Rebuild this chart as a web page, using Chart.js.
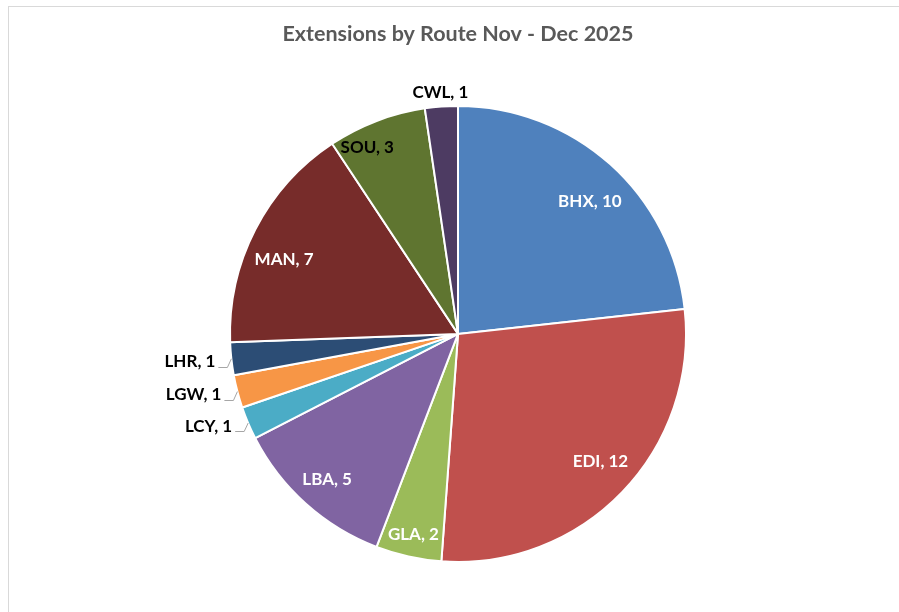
<!DOCTYPE html>
<html>
<head>
<meta charset="utf-8">
<script src="https://cdn.jsdelivr.net/npm/chart.js@4"></script>
<style>
  body { margin: 0; background: #fff; }
  canvas { display: block; }
</style>
</head>
<body>
<canvas id="chart" width="899" height="612"></canvas>
<script>
const routes = ['BHX', 'EDI', 'GLA', 'LBA', 'LCY', 'LGW', 'LHR', 'MAN', 'SOU', 'CWL'];
const extensions = [10, 12, 2, 5, 1, 1, 1, 7, 3, 1];
const sliceColours = ['#4F81BD', '#C0504D', '#9BBB59', '#8064A2', '#4BACC6',
                      '#F79646', '#2C4D75', '#772C2A', '#5F7530', '#4D3B62'];

// label placement: 'in' = inside slice, 'top' = just outside, 'left' = outside with leader
const labelMode = ['in', 'in', 'in', 'in', 'left', 'left', 'left', 'in', 'in', 'top'];
const labelRadius = [0.82, 0.84, 0.9, 0.86, 1, 1, 1, 0.83, 0.91, 1.06];
const labelTurn = [3, -2, 0, 0, 0, 0, 0, -4, -5, 0]; // degrees
const labelInk = ['#fff', '#fff', '#fff', '#fff', '#000', '#000', '#000', '#fff', '#000', '#000'];

const FONT = 'Lato, "Open Sans", sans-serif';

const frame = {
  id: 'frame',
  beforeDraw(c) {
    const ctx = c.ctx;
    ctx.save();
    ctx.fillStyle = '#fff';
    ctx.fillRect(0, 0, c.width, c.height);
    ctx.strokeStyle = '#d9d9d9';
    ctx.lineWidth = 1;
    ctx.strokeRect(8.5, 6.5, c.width + 10, c.height + 10);
    ctx.restore();
  }
};

const sliceLabels = {
  id: 'sliceLabels',
  afterDatasetsDraw(c) {
    const ctx = c.ctx;
    const arcs = c.getDatasetMeta(0).data;
    ctx.save();
    ctx.font = 'bold 17px ' + FONT;
    ctx.textBaseline = 'middle';
    arcs.forEach((arc, i) => {
      const p = arc.getProps(['x', 'y', 'startAngle', 'endAngle', 'outerRadius'], true);
      const mid = (p.startAngle + p.endAngle) / 2 + labelTurn[i] * Math.PI / 180;
      const text = routes[i] + ', ' + extensions[i];
      ctx.fillStyle = labelInk[i];
      if (labelMode[i] === 'left') {
        const ex = p.x + Math.cos(mid) * p.outerRadius;
        const ey = p.y + Math.sin(mid) * p.outerRadius;
        const tx = ex - 16, ty = ey + 3;
        ctx.textAlign = 'right';
        ctx.fillText(text, tx, ty);
        ctx.strokeStyle = '#a6a6a6';
        ctx.lineWidth = 1;
        ctx.beginPath();
        ctx.moveTo(tx + 3, Math.round(ty + 5) + 0.5);
        ctx.lineTo(ex - 4, Math.round(ty + 5) + 0.5);
        ctx.lineTo(ex, ey);
        ctx.stroke();
      } else {
        const r = p.outerRadius * labelRadius[i];
        ctx.textAlign = 'center';
        ctx.fillText(text, p.x + Math.cos(mid) * r, p.y + Math.sin(mid) * r);
      }
    });
    ctx.restore();
  }
};

new Chart(document.getElementById('chart').getContext('2d'), {
  type: 'pie',
  data: {
    labels: routes,
    datasets: [{
      data: extensions,
      backgroundColor: sliceColours,
      borderColor: '#fff',
      borderWidth: 2
    }]
  },
  options: {
    responsive: false,
    devicePixelRatio: 1,
    animation: false,
    layout: { padding: { top: 0, bottom: 49, left: 229, right: 212 } },
    plugins: {
      legend: { display: false },
      tooltip: { enabled: false },
      title: {
        display: true,
        text: 'Extensions by Route Nov - Dec 2025',
        color: '#595959',
        font: { family: FONT, size: 21.5, weight: 'bold', lineHeight: 1.2 },
        padding: { top: 21, bottom: 58 }
      }
    }
  },
  plugins: [frame, sliceLabels]
});
</script>
</body>
</html>
